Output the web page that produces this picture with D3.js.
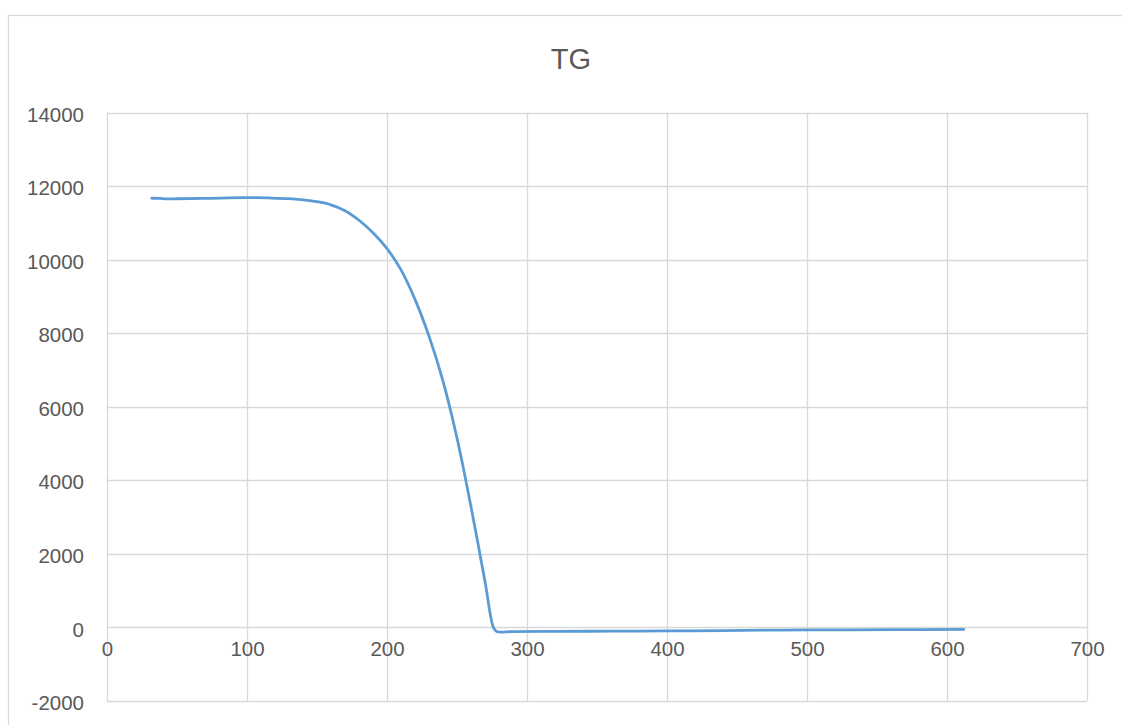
<!DOCTYPE html>
<html>
<head>
<meta charset="utf-8">
<script src="https://cdn.jsdelivr.net/npm/d3@7"></script>
<style>
  html, body { margin: 0; padding: 0; background: #fff; }
  svg { display: block; }
  text { font-family: "Liberation Sans", Arial, sans-serif; fill: #595959; }
</style>
</head>
<body>
<svg id="chart" width="1122" height="725"></svg>
<script>
// TG curve: temperature (x) vs. mass signal (y)
const temperature = [32, 38, 42, 50, 70, 100, 116, 130, 140, 150, 160, 170, 180, 190,
  200, 210, 220, 230, 240, 250, 260, 270, 276, 278.3,
  290, 320, 360, 400, 440, 480, 520, 560, 612];
const signal = [11668, 11665, 11652, 11655, 11665, 11685, 11676, 11658, 11625, 11575, 11490, 11330,
  11070, 10730, 10300, 9720, 8920, 7920, 6700, 5150, 3280, 1250, 0, -110,
  -112, -108, -102, -95, -85, -72, -66, -60, -55];

const xTicks = [0, 100, 200, 300, 400, 500, 600, 700];
const yTicks = [-2000, 0, 2000, 4000, 6000, 8000, 10000, 12000, 14000];
const title = "TG";

const svg = d3.select("#chart");
const W = 1122, H = 725;
const plot = { left: 107, right: 1087, top: 112.5, bottom: 701 };

const x = d3.scaleLinear().domain([0, 700]).range([plot.left, plot.right]);
const y = d3.scaleLinear().domain([-2000, 14000]).range([plot.bottom, plot.top]);

// chart frame
svg.append("rect")
  .attr("x", 8.5).attr("y", 15.5)
  .attr("width", W + 10).attr("height", H + 10)
  .attr("fill", "none").attr("stroke", "#d9d9d9").attr("stroke-width", 1.2);

// title
svg.append("text")
  .attr("x", 571).attr("y", 69)
  .attr("text-anchor", "middle")
  .style("font-size", "29px")
  .text(title);

const grid = svg.append("g").attr("stroke", "#d9d9d9").attr("stroke-width", 1.3);

// horizontal gridlines
grid.selectAll("line.h").data(yTicks).join("line")
  .attr("class", "h")
  .attr("x1", plot.left).attr("x2", plot.right)
  .attr("y1", d => Math.round(y(d)) + 0.5).attr("y2", d => Math.round(y(d)) + 0.5);

// vertical gridlines
grid.selectAll("line.v").data(xTicks).join("line")
  .attr("class", "v")
  .attr("y1", plot.top).attr("y2", plot.bottom)
  .attr("x1", d => Math.round(x(d)) + 0.5).attr("x2", d => Math.round(x(d)) + 0.5);

const labelFont = "20.5px";

// y axis labels
const yAxis = d3.axisLeft(y).tickValues(yTicks).tickSize(0).tickPadding(23).tickFormat(d => String(d));
const gy = svg.append("g").attr("transform", `translate(${plot.left},0)`).call(yAxis);
gy.select(".domain").remove();
gy.selectAll("text")
  .attr("dy", "0.42em")
  .style("font-size", labelFont)
  .style("fill", "#595959")
  .style("font-family", "'Liberation Sans', Arial, sans-serif");

// x axis labels, placed under the zero line
const xAxis = d3.axisBottom(x).tickValues(xTicks).tickSize(0).tickPadding(14).tickFormat(d => String(d));
const gx = svg.append("g").attr("transform", `translate(0,${y(0)})`).call(xAxis);
gx.select(".domain").remove();
gx.selectAll("text")
  .attr("dy", "0.71em")
  .style("font-size", labelFont)
  .style("fill", "#595959")
  .style("font-family", "'Liberation Sans', Arial, sans-serif");

// data line (smoothed)
const points = temperature.map((t, i) => [t, signal[i]]);
const line = d3.line()
  .x(d => x(d[0]))
  .y(d => y(d[1]))
  .curve(d3.curveCatmullRom.alpha(0.5));

svg.append("path")
  .datum(points)
  .attr("d", line)
  .attr("fill", "none")
  .attr("stroke", "#5b9bd5")
  .attr("stroke-width", 2.8)
  .attr("stroke-linejoin", "round")
  .attr("stroke-linecap", "round");
</script>
</body>
</html>
